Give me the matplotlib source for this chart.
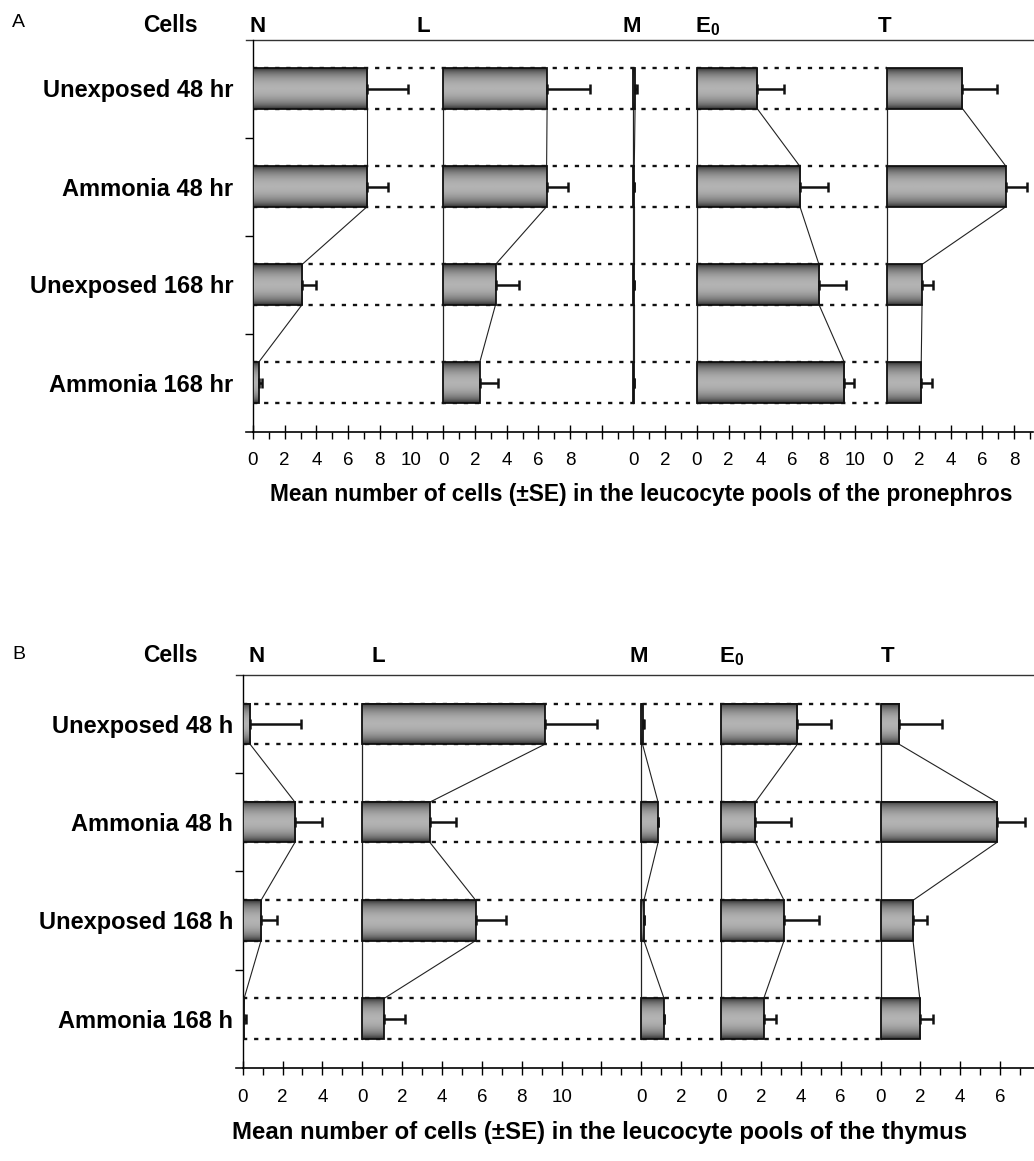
import numpy as np
import matplotlib
matplotlib.use('Agg')
import matplotlib.pyplot as plt
from matplotlib.lines import Line2D
from matplotlib import transforms

plt.rcParams['font.family'] = ['Liberation Sans', 'DejaVu Sans']
plt.rcParams['mathtext.fontset'] = 'custom'
plt.rcParams['mathtext.rm'] = 'Liberation Sans'
plt.rcParams['mathtext.bf'] = 'Liberation Sans:bold'

# ---------------- data ----------------
cells = ['N', 'L', 'M', r'$\mathbf{E}_\mathbf{0}$', 'T']

# Panel A : pronephros
rows_a = ['Unexposed 48 hr', 'Ammonia 48 hr', 'Unexposed 168 hr', 'Ammonia 168 hr']
a_N = [7.2, 7.2, 3.1, 0.35]
a_N_se = [2.6, 1.3, 0.85, 0.2]
a_L = [6.55, 6.52, 3.3, 2.3]
a_L_se = [2.7, 1.37, 1.45, 1.15]
a_M = [0.1, 0.05, 0.05, 0.05]
a_M_se = [0.12, 0.0, 0.0, 0.0]
a_E0 = [3.8, 6.5, 7.7, 9.3]
a_E0_se = [1.7, 1.8, 1.7, 0.6]
a_T = [4.75, 7.5, 2.2, 2.15]
a_T_se = [2.2, 1.3, 0.7, 0.65]
a_offsets = [0, 12, 24, 28, 40]
a_ticklabels = [[0, 2, 4, 6, 8, 10], [0, 2, 4, 6, 8], [0, 2], [0, 2, 4, 6, 8, 10], [0, 2, 4, 6, 8]]
a_xlabel = 'Mean number of cells (\u00b1SE) in the leucocyte pools of the pronephros'

# Panel B : thymus
rows_b = ['Unexposed 48 h', 'Ammonia 48 h', 'Unexposed 168 h', 'Ammonia 168 h']
b_N = [0.37, 2.62, 0.92, 0.07]
b_N_se = [2.53, 1.34, 0.82, 0.1]
b_L = [9.16, 3.39, 5.69, 1.09]
b_L_se = [2.64, 1.31, 1.5, 1.05]
b_M = [0.06, 0.84, 0.13, 1.14]
b_M_se = [0.06, 0.0, 0.0, 0.0]
b_E0 = [3.83, 1.72, 3.16, 2.14]
b_E0_se = [1.67, 1.81, 1.74, 0.64]
b_T = [0.93, 5.84, 1.63, 1.97]
b_T_se = [2.17, 1.39, 0.72, 0.66]
b_offsets = [0, 6, 20, 24, 32]
b_ticklabels = [[0, 2, 4], [0, 2, 4, 6, 8, 10], [0, 2], [0, 2, 4, 6], [0, 2, 4, 6]]
b_xlabel = 'Mean number of cells (\u00b1SE) in the leucocyte pools of the thymus'

# ---------------- layout ----------------
W, H = 1034, 1161
fig = plt.figure(figsize=(W / 100, H / 100), dpi=100)

BAR_H = 0.41
profile = np.sin(np.linspace(0, np.pi, 60)) ** 0.55
grad = (0.12 + 0.58 * profile)[:, None]


def draw_panel(ax, values, ses, offsets, ticklabels, rowlabels, xmax,
               header_x, header_y, ypad, ax_px_w):
    rows = np.arange(len(rowlabels))
    tpos = offsets[-1]
    # dotted guide lines at bar edges
    for r in rows:
        for yy in (r - BAR_H / 2, r + BAR_H / 2):
            ax.plot([0, tpos], [yy, yy], color='#111111', lw=1.7,
                    linestyle=(0, (1.8, 2.9)), zorder=1)
    for k, (vals, se, off) in enumerate(zip(values, ses, offsets)):
        vals = np.asarray(vals, float)
        se = np.asarray(se, float)
        ends = off + vals
        # zero line of the section
        if off > 0:
            ax.plot([off, off], [rows[0] - BAR_H / 2, rows[-1] + BAR_H / 2],
                    color='#222222', lw=0.9, zorder=2)
        # connectors between consecutive bar ends
        for i in range(len(rows) - 1):
            ax.plot([ends[i], ends[i + 1]],
                    [rows[i] + BAR_H / 2, rows[i + 1] - BAR_H / 2],
                    color='#222222', lw=0.8, zorder=2)
        # bars with gradient fill
        for r, v in zip(rows, vals):
            ax.imshow(grad, cmap='gray', vmin=0, vmax=1, aspect='auto',
                      extent=[off, off + v, r + BAR_H / 2, r - BAR_H / 2],
                      interpolation='bilinear', zorder=3)
        ax.barh(rows, vals, left=off, height=BAR_H, facecolor='none',
                edgecolor='#111111', lw=1.3, zorder=4)
        ax.errorbar(ends, rows, xerr=[np.zeros_like(se), se], fmt='none',
                    ecolor='#111111', elinewidth=1.8, capsize=3.8,
                    capthick=1.8, zorder=5)
        ax.text(header_x[k], header_y, cells[k], fontsize=16, fontweight='bold',
                ha='left', va='baseline',
                transform=transforms.blended_transform_factory(ax.transData, ax.transAxes))

    ax.set_xlim(0, xmax)
    ax.set_ylim(len(rows) - 0.5, -0.5)
    # x ticks
    major = np.arange(0, xmax + 0.01, 2)
    labmap = {}
    for off, labs in zip(offsets, ticklabels):
        for l in labs:
            labmap[round(off + l)] = str(l)
    ax.set_xticks(major)
    ax.set_xticklabels([labmap.get(int(round(m)), '') for m in major])
    ax.set_xticks(np.arange(0, xmax + 0.01, 1), minor=True)
    ax.tick_params(axis='x', which='major', direction='inout', length=10,
                   width=1.0, labelsize=13.5, pad=10)
    ax.tick_params(axis='x', which='minor', direction='out', length=5, width=1.0)
    # y ticks
    ax.set_yticks(rows)
    ax.set_yticklabels(rowlabels, fontsize=17, fontweight='bold')
    ax.set_yticks(rows[:-1] + 0.5, minor=True)
    ax.tick_params(axis='y', which='major', length=0, pad=ypad)
    ax.tick_params(axis='y', which='minor', direction='out', length=6, width=1.0)
    for s in ('top', 'right'):
        ax.spines[s].set_visible(False)
    ax.spines['left'].set_linewidth(1.0)
    ax.spines['bottom'].set_linewidth(1.2)
    ext = 7.0 / ax_px_w
    ax.add_line(Line2D([-ext, 1], [1, 1], transform=ax.transAxes, color='#333333',
                       lw=1.0, clip_on=False))
    ax.add_line(Line2D([-ext, 0], [0, 0], transform=ax.transAxes, color='#111111',
                       lw=1.2, clip_on=False))


# Panel A axes
axA = fig.add_axes([253 / W, 1 - 431.5 / H, (1033 - 253) / W, 392 / H])
draw_panel(axA, [a_N, a_L, a_M, a_E0, a_T], [a_N_se, a_L_se, a_M_se, a_E0_se, a_T_se],
           a_offsets, a_ticklabels, rows_a, 49.2,
           [-0.2, 10.3, 23.3, 27.9, 39.4], 1 + 7.5 / 392, 14, 780)

# Panel B axes
axB = fig.add_axes([242.7 / W, 1 - 1067.7 / H, (1034 - 242.7) / W, 392.7 / H])
draw_panel(axB, [b_N, b_L, b_M, b_E0, b_T], [b_N_se, b_L_se, b_M_se, b_E0_se, b_T_se],
           b_offsets, b_ticklabels, rows_b, 39.7,
           [0.27, 6.48, 19.4, 23.9, 32.0], 1 + 13 / 392.7, 7, 791)

# Panel letters, "Cells" headers and axis titles
fig.text(12 / W, 1 - 27 / H, 'A', fontsize=14, va='baseline', ha='left')
fig.text(12 / W, 1 - 659 / H, 'B', fontsize=14, va='baseline', ha='left')
fig.text(143 / W, 1 - 32 / H, 'Cells', fontsize=16.5, fontweight='bold', va='baseline', ha='left')
fig.text(143 / W, 1 - 662 / H, 'Cells', fontsize=16.5, fontweight='bold', va='baseline', ha='left')
fig.text(641 / W, 1 - 495 / H, a_xlabel, fontsize=16.4, fontweight='bold', ha='center', va='center')
fig.text(600 / W, 1 - 1133 / H, b_xlabel, fontsize=17.3, fontweight='bold', ha='center', va='center')

fig.savefig('out.png', dpi=100, facecolor='white')
